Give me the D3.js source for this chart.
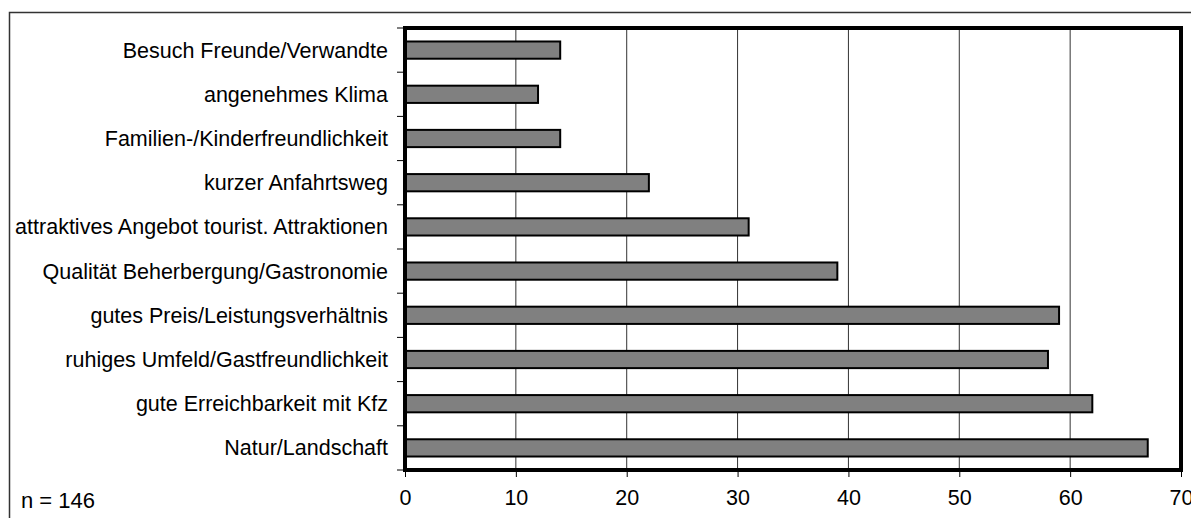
<!DOCTYPE html>
<html>
<head>
<meta charset="utf-8">
<script src="https://cdn.jsdelivr.net/npm/d3@7"></script>
<style>
  body { margin: 0; background: #fff; }
  svg { display: block; font-family: "Liberation Sans", Arial, sans-serif; }
</style>
</head>
<body>
<div id="chart"></div>
<script>
// categories, top to bottom
const categories = [
  "Besuch Freunde/Verwandte",
  "angenehmes Klima",
  "Familien-/Kinderfreundlichkeit",
  "kurzer Anfahrtsweg",
  "attraktives Angebot tourist. Attraktionen",
  "Qualität Beherbergung/Gastronomie",
  "gutes Preis/Leistungsverhältnis",
  "ruhiges Umfeld/Gastfreundlichkeit",
  "gute Erreichbarkeit mit Kfz",
  "Natur/Landschaft"
];
const values = [14, 12, 14, 22, 31, 39, 59, 58, 62, 67];
const xTicks = [0, 10, 20, 30, 40, 50, 60, 70];
const note = "n = 146";

const width = 1191, height = 518;
const plot = { left: 405, top: 28, right: 1181, bottom: 470 };
const fontSize = "21.5px";

const svg = d3.select("#chart")
  .append("svg")
  .attr("width", width)
  .attr("height", height);

// outer frame
svg.append("rect")
  .attr("x", 9.5)
  .attr("y", 12.5)
  .attr("width", 1200)
  .attr("height", 520)
  .attr("fill", "none")
  .attr("stroke", "#333")
  .attr("stroke-width", 1.5);

const x = d3.scaleLinear().domain([0, 70]).range([plot.left, plot.right]);
const y = d3.scaleBand()
  .domain(categories)
  .range([plot.top, plot.bottom])
  .paddingInner(0.61)
  .paddingOuter(0.305);

// gridlines
svg.append("g")
  .selectAll("line")
  .data(xTicks.slice(1, -1))
  .join("line")
  .attr("x1", d => x(d))
  .attr("x2", d => x(d))
  .attr("y1", plot.top)
  .attr("y2", plot.bottom)
  .attr("stroke", "#333")
  .attr("stroke-width", 1);

// bottom axis
const xAxis = svg.append("g")
  .attr("transform", `translate(0,${plot.bottom})`)
  .call(d3.axisBottom(x).tickValues(xTicks).tickSize(7).tickPadding(13).tickFormat(d3.format("d")));
xAxis.select(".domain").remove();
xAxis.selectAll(".tick line").attr("stroke", "#000").attr("stroke-width", 1);
xAxis.selectAll(".tick text")
  .attr("fill", "#000")
  .style("font-size", fontSize)
  .style("font-family", "'Liberation Sans', Arial, sans-serif");

// left ticks at category boundaries
const step = y.step();
const bounds = d3.range(categories.length + 1).map(i => plot.top + i * step);
svg.append("g")
  .selectAll("line")
  .data(bounds)
  .join("line")
  .attr("x1", plot.left - 8)
  .attr("x2", plot.left)
  .attr("y1", d => d)
  .attr("y2", d => d)
  .attr("stroke", "#000")
  .attr("stroke-width", 1);

// category labels
svg.append("g")
  .selectAll("text")
  .data(categories)
  .join("text")
  .attr("x", 388)
  .attr("y", d => y(d) + y.bandwidth() / 2)
  .attr("dy", "0.35em")
  .attr("text-anchor", "end")
  .style("font-size", fontSize)
  .attr("fill", "#000")
  .text(d => d);

// bars
svg.append("g")
  .selectAll("rect")
  .data(values)
  .join("rect")
  .attr("x", x(0))
  .attr("y", (d, i) => y(categories[i]))
  .attr("width", d => x(d) - x(0))
  .attr("height", y.bandwidth())
  .attr("fill", "#808080")
  .attr("stroke", "#000")
  .attr("stroke-width", 2);

// plot frame
svg.append("rect")
  .attr("x", plot.left)
  .attr("y", plot.top)
  .attr("width", plot.right - plot.left)
  .attr("height", plot.bottom - plot.top)
  .attr("fill", "none")
  .attr("stroke", "#000")
  .attr("stroke-width", 4);

svg.append("text")
  .attr("x", 21)
  .attr("y", 508)
  .style("font-size", "22px")
  .attr("fill", "#000")
  .text(note);
</script>
</body>
</html>
